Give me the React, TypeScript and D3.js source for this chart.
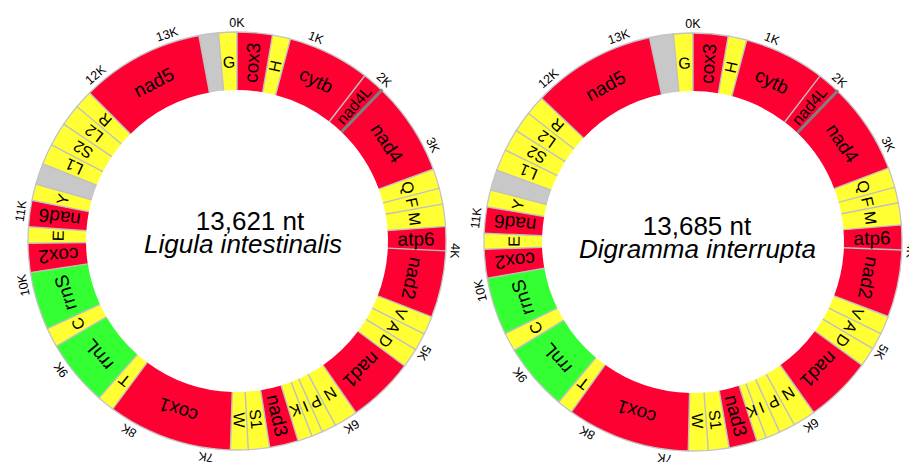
import React from "react";
import * as d3 from "d3";

const WIDTH = 909;
const HEIGHT = 462;

// Gene order around both circular genomes (clockwise from 0K)
const geneNames = [
  "cox3", "H", "cytb", "nad4L", "nad4", "Q", "F", "M", "atp6", "nad2",
  "V", "A", "D", "nad1", "N", "P", "I", "K", "nad3", "S1",
  "W", "cox1", "T", "rrnL", "C", "rrnS", "cox2", "E", "nad6", "Y",
  "NCR", "L1", "S2", "L2", "R", "nad5", "NCR", "G",
];
const geneTypes = [
  "pcg", "trna", "pcg", "pcg", "pcg", "trna", "trna", "trna", "pcg", "pcg",
  "trna", "trna", "trna", "pcg", "trna", "trna", "trna", "trna", "pcg", "trna",
  "trna", "pcg", "trna", "rrna", "trna", "rrna", "pcg", "trna", "pcg", "trna",
  "ncr", "trna", "trna", "trna", "trna", "pcg", "ncr", "trna",
];

// Segment boundaries on the (display) map, in degrees clockwise from top
const ligulaBounds = [
  0, 9.8, 14.8, 37.7, 43.8, 69.9, 75.4, 79.8, 86, 92.7,
  111.3, 116.4, 121.3, 126.7, 145.3, 151.9, 155.9, 159, 163, 171,
  176.9, 181.8, 216.5, 221.3, 239.8, 245.2, 261.3, 269.4, 273.9, 281.2,
  285.8, 291.7, 297.4, 304, 310, 315.1, 349.5, 354.9, 360,
];
const digrammaBounds = [
  0, 9.7, 14.9, 37.4, 43.7, 69.3, 74.8, 79.2, 85.3, 92.2,
  110.9, 116, 120.7, 126.1, 144.7, 151, 155.5, 159.5, 162.2, 170,
  175.8, 181.3, 215.6, 220, 238.8, 244, 260, 268, 272.4, 279.7,
  284.4, 290.1, 296.1, 302.2, 308, 313.5, 348, 354.6, 360,
];

const tickLabels = ["0K", "1K", "2K", "3K", "4K", "5K", "6K", "7K", "8K", "9K", "10K", "11K", "12K", "13K"];
const ligulaTicks = [0, 21.2, 42.4, 63.9, 92.6, 120.9, 148.3, 188.2, 209.7, 233.8, 258.3, 277.9, 319.6, 341.3];
const digrammaTicks = [0, 21.2, 42.2, 63.4, 92.2, 120.3, 147.2, 187.4, 209, 232.4, 257.1, 276.3, 318.5, 340.1];

const genomeLengths = ["13,621 nt", "13,685 nt"];
const speciesNames = ["Ligula intestinalis", "Digramma interrupta"];

// genes whose overlap with the next gene is marked by a dark line
const overlapMarks = ["nad4L"];
// labels drawn radially (reading inward -> outward)
const radialLabels = ["cox3", "H", "nad4L", "atp6", "nad3", "S1", "W", "cox2", "nad6", "L1", "S2", "L2", "R"];

const typeColor: Record<string, string> = {
  pcg: "#ff0033",
  trna: "#ffff33",
  rrna: "#33ff33",
  ncr: "#c8c8c8",
};

const FONT = "'Liberation Sans', Arial, Helvetica, sans-serif";
const R_IN = 151;
const R_OUT = 209;
const R_LABEL = 179;
const R_TICK = 218;

const angle = d3.scaleLinear().domain([0, 360]).range([0, 2 * Math.PI]);
const arcGen = d3.arc<any>();

function polar(deg: number, r: number): [number, number] {
  const a = angle(deg);
  return [Math.sin(a) * r, -Math.cos(a) * r];
}

type RingProps = {
  cx: number;
  cy: number;
  bounds: number[];
  ticks: number[];
  length: string;
  species: string;
  title1: [number, number];
  title2: [number, number];
};

function Ring({ cx, cy, bounds, ticks, length, species, title1, title2 }: RingProps) {
  const segs = geneNames.map((name, i) => ({
    name,
    type: geneTypes[i],
    start: bounds[i],
    end: bounds[i + 1],
  }));
  return (
    <g transform={`translate(${cx},${cy})`}>
      {segs.map((s, i) => (
        <path
          key={"s" + i}
          d={arcGen({ innerRadius: R_IN, outerRadius: R_OUT, startAngle: angle(s.start), endAngle: angle(s.end) }) || ""}
          fill={typeColor[s.type]}
        />
      ))}
      <circle r={R_OUT} fill="none" stroke="#c4c4c4" strokeWidth={1.3} />
      {bounds.slice(0, -1).map((b, i) => {
        const [x1, y1] = polar(b, R_IN);
        const [x2, y2] = polar(b, R_OUT + 0.5);
        return <line key={"b" + i} x1={x1} y1={y1} x2={x2} y2={y2} stroke="#c0c0c0" strokeWidth={1.4} />;
      })}
      {segs
        .filter((s) => overlapMarks.includes(s.name))
        .map((s, i) => {
          const [x1, y1] = polar(s.end, R_IN);
          const [x2, y2] = polar(s.end, R_OUT + 1);
          return <line key={"o" + i} x1={x1} y1={y1} x2={x2} y2={y2} stroke="#808080" strokeWidth={3} />;
        })}
      {segs
        .filter((s) => s.type !== "ncr")
        .map((s, i) => {
          const mid = (s.start + s.end) / 2;
          const [x, y] = polar(mid, R_LABEL);
          const radial = radialLabels.includes(s.name);
          const rot = radial ? mid - 90 : mid;
          const size = s.type === "trna" ? 16 : s.name.length > 4 ? 16 : 19;
          return (
            <text
              key={"l" + i}
              transform={`translate(${x},${y}) rotate(${rot})`}
              textAnchor="middle"
              dominantBaseline="central"
              fontSize={size}
              fontFamily={FONT}
              fill="#000"
            >
              {s.name}
            </text>
          );
        })}
      {ticks.map((t, i) => {
        const [x, y] = polar(t, R_TICK);
        return (
          <text
            key={"t" + i}
            transform={`translate(${x},${y}) rotate(${t})`}
            textAnchor="middle"
            dominantBaseline="central"
            fontSize={12.5}
            fontFamily={FONT}
            fill="#000"
          >
            {tickLabels[i]}
          </text>
        );
      })}
      <text x={title1[0]} y={title1[1]} textAnchor="middle" fontSize={26} fontFamily={FONT} fill="#000">
        {length}
      </text>
      <text
        x={title2[0]}
        y={title2[1]}
        textAnchor="middle"
        fontSize={26}
        fontStyle="italic"
        fontFamily={FONT}
        fill="#000"
      >
        {species}
      </text>
    </g>
  );
}

export default function App() {
  return (
    <svg
      width={WIDTH}
      height={HEIGHT}
      style={{ position: "absolute", left: 0, top: 0, background: "#fff" }}
    >
      <rect width={WIDTH} height={HEIGHT} fill="#fff" />
      <Ring
        cx={237}
        cy={241}
        bounds={ligulaBounds}
        ticks={ligulaTicks}
        length={genomeLengths[0]}
        species={speciesNames[0]}
        title1={[13, -11]}
        title2={[6, 12]}
      />
      <Ring
        cx={693}
        cy={242}
        bounds={digrammaBounds}
        ticks={digrammaTicks}
        length={genomeLengths[1]}
        species={speciesNames[1]}
        title1={[4, -7]}
        title2={[4.5, 16]}
      />
    </svg>
  );
}
